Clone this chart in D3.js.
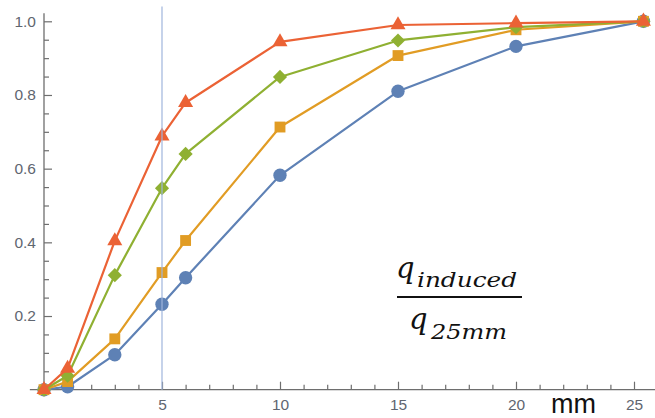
<!DOCTYPE html>
<html>
<head>
<meta charset="utf-8">
<script src="https://cdn.jsdelivr.net/npm/d3@7"></script>
<style>
  html, body { margin: 0; padding: 0; background: #fff; }
  svg { display: block; }
</style>
</head>
<body>
<svg id="chart" width="655" height="418"></svg>
<script>
// distance along the electrode (mm)
const distances = [0, 1, 3, 5, 6, 10, 15, 20, 25.4];
// induced charge normalised to the 25 mm value, one array per curve
const seriesBlue   = [0, 0.008, 0.095, 0.232, 0.304, 0.582, 0.810, 0.932, 1.0];
const seriesOrange = [0, 0.022, 0.138, 0.318, 0.405, 0.713, 0.907, 0.977, 1.0];
const seriesGreen  = [0, 0.038, 0.311, 0.547, 0.640, 0.849, 0.948, 0.984, 1.0];
const seriesRed    = [0, 0.058, 0.404, 0.688, 0.779, 0.944, 0.990, 0.995, 1.0];

const xMajorTicks = [5, 10, 15, 20, 25];
const yMajorTicks = [0.2, 0.4, 0.6, 0.8, 1.0];
const markerLine = 5;

const series = [
  { values: seriesBlue,   color: "#5E81B5", marker: "circle" },
  { values: seriesOrange, color: "#E19C24", marker: "square" },
  { values: seriesGreen,  color: "#8FB032", marker: "diamond" },
  { values: seriesRed,    color: "#EB6235", marker: "triangle" }
];

const svg = d3.select("#chart");

const x = d3.scaleLinear().domain([0, 25]).range([44, 634]);
const y = d3.scaleLinear().domain([0, 1]).range([389.7, 21.3]);

const axisColor = "#6e6e6e";
const labelColor = "#5f6670";

// axis lines
svg.append("line")
  .attr("x1", x(-0.6)).attr("x2", x(25.95))
  .attr("y1", y(0)).attr("y2", y(0))
  .attr("stroke", axisColor).attr("stroke-width", 1.3);
svg.append("line")
  .attr("x1", x(0)).attr("x2", x(0))
  .attr("y1", y(0)).attr("y2", y(1.022))
  .attr("stroke", axisColor).attr("stroke-width", 1.3);

// x ticks: minor every mm, major every 5 mm
const xMinor = d3.range(1, 26).filter(v => v % 5 !== 0);
const gxMinor = svg.append("g").attr("transform", `translate(0,${y(0)})`)
  .call(d3.axisBottom(x).tickValues(xMinor).tickSize(-5).tickFormat(""));
const gxMajor = svg.append("g").attr("transform", `translate(0,${y(0)})`)
  .call(d3.axisBottom(x).tickValues(xMajorTicks).tickSize(-8).tickPadding(9).tickFormat(d3.format("d")));

// y ticks: minor every 0.05, major every 0.2
const yMinor = d3.range(1, 21).map(i => +(i * 0.05).toFixed(2)).filter(v => Math.abs(v * 5 - Math.round(v * 5)) > 1e-6);
const gyMinor = svg.append("g").attr("transform", `translate(${x(0)},0)`)
  .call(d3.axisLeft(y).tickValues(yMinor).tickSize(-5).tickFormat(""));
const gyMajor = svg.append("g").attr("transform", `translate(${x(0)},0)`)
  .call(d3.axisLeft(y).tickValues(yMajorTicks).tickSize(-8).tickPadding(8).tickFormat(d3.format(".1f")));

[gxMinor, gxMajor, gyMinor, gyMajor].forEach(g => {
  g.select(".domain").remove();
  g.selectAll(".tick line").attr("stroke", axisColor).attr("stroke-width", 1.2);
  g.selectAll(".tick text")
    .attr("fill", labelColor)
    .style("font-family", "'Liberation Sans', Arial, sans-serif")
    .style("font-size", "15.5px");
});

// curves
const line = d3.line().x(d => x(d[0])).y(d => y(d[1]));
const symbolFor = {
  circle:   d3.symbol().type(d3.symbolCircle).size(140),
  square:   d3.symbol().type(d3.symbolSquare).size(118),
  diamond:  d3.symbol().type(d3.symbolSquare).size(100),
  triangle: d3.symbol().type(d3.symbolTriangle).size(98)
};

series.forEach(s => {
  const pts = distances.map((d, i) => [d, s.values[i]]);
  const g = svg.append("g");
  g.append("path")
    .attr("d", line(pts))
    .attr("fill", "none")
    .attr("stroke", s.color)
    .attr("stroke-width", 2.2)
    .attr("stroke-linejoin", "round");
  g.selectAll("path.mark").data(pts).join("path")
    .attr("class", "mark")
    .attr("d", symbolFor[s.marker]())
    .attr("transform", d => `translate(${x(d[0])},${y(d[1])})` + (s.marker === "diamond" ? " rotate(45)" : ""))
    .attr("fill", s.color);
});

// reference line at 5 mm
svg.append("line")
  .attr("x1", x(markerLine)).attr("x2", x(markerLine))
  .attr("y1", y(0)).attr("y2", y(1.04))
  .attr("stroke", "#9fb5dc").attr("stroke-width", 1.2);

// axis unit
svg.append("text")
  .attr("x", 551).attr("y", 413)
  .style("font-family", "'Liberation Sans', Arial, sans-serif")
  .style("font-size", "27px")
  .attr("fill", "#111")
  .text("mm");

// normalised charge label: q_induced / q_25mm
const mathFont = "'DejaVu Serif', serif";
const frac = svg.append("g").attr("fill", "#111").style("font-family", mathFont).style("font-style", "italic");
frac.append("text").attr("x", 396).attr("y", 278).style("font-size", "29px").text("q");
frac.append("text").attr("x", 417).attr("y", 287).style("font-size", "20px")
  .attr("textLength", 100).attr("lengthAdjust", "spacingAndGlyphs").text("induced");
frac.append("line").attr("x1", 397).attr("x2", 522).attr("y1", 297).attr("y2", 297)
  .attr("stroke", "#111").attr("stroke-width", 2);
frac.append("text").attr("x", 409).attr("y", 329).style("font-size", "29px").text("q");
frac.append("text").attr("x", 431).attr("y", 339).style("font-size", "20px")
  .attr("textLength", 76).attr("lengthAdjust", "spacingAndGlyphs").text("25mm");
</script>
</body>
</html>
